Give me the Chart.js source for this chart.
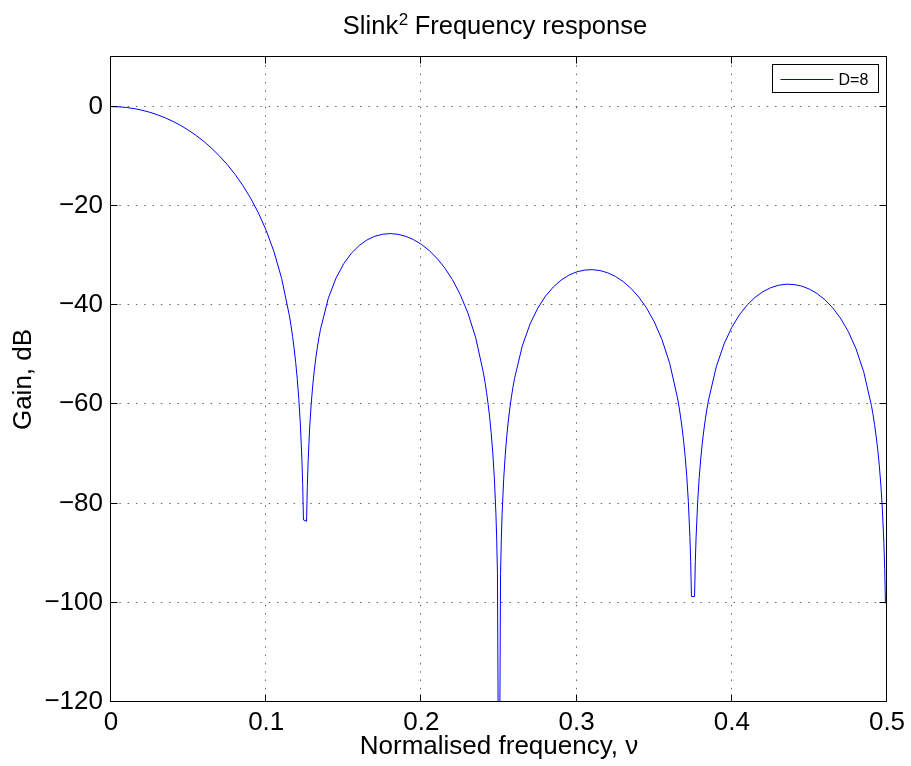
<!DOCTYPE html>
<html><head><meta charset="utf-8">
<script src="https://cdn.jsdelivr.net/npm/chart.js@4.4.0/dist/chart.umd.min.js"></script>
<style>html,body{margin:0;padding:0;background:#fff;} #wrap{width:911px;height:766px;}</style>
</head><body><div id="wrap"><canvas id="c" width="911" height="766"></canvas></div>
<script>
// ---- data ----
const nu = [0,0.005,0.01,0.015,0.02,0.025,0.03,0.035,0.04,0.045,0.05,0.055,0.06,0.065,0.07,0.075,0.08,0.085,0.09,0.095,0.1,0.105,0.11,0.115,0.116,0.117,0.118,0.119,0.12,0.121,0.122,0.123,0.1235,0.124,0.126,0.1265,0.127,0.128,0.129,0.13,0.131,0.132,0.133,0.134,0.135,0.14,0.145,0.15,0.155,0.16,0.165,0.17,0.175,0.18,0.185,0.19,0.195,0.2,0.205,0.21,0.215,0.22,0.225,0.23,0.235,0.24,0.241,0.242,0.243,0.244,0.245,0.246,0.247,0.248,0.2485,0.249,0.2499,0.2501,0.251,0.2515,0.252,0.253,0.254,0.255,0.256,0.257,0.258,0.259,0.26,0.265,0.27,0.275,0.28,0.285,0.29,0.295,0.3,0.305,0.31,0.315,0.32,0.325,0.33,0.335,0.34,0.345,0.35,0.355,0.36,0.365,0.366,0.367,0.368,0.369,0.37,0.371,0.372,0.373,0.3735,0.374,0.376,0.3765,0.377,0.378,0.379,0.38,0.381,0.382,0.383,0.384,0.385,0.39,0.395,0.4,0.405,0.41,0.415,0.42,0.425,0.43,0.435,0.44,0.445,0.45,0.455,0.46,0.465,0.47,0.475,0.48,0.485,0.49,0.491,0.492,0.493,0.494,0.495,0.496,0.497,0.498,0.4985,0.499];
const gainDb = [0,-0.045,-0.181,-0.407,-0.727,-1.14,-1.653,-2.266,-2.986,-3.817,-4.769,-5.848,-7.067,-8.439,-9.984,-11.72,-13.69,-15.92,-18.48,-21.44,-24.95,-29.23,-34.68,-42.23,-44.17,-46.33,-48.76,-51.56,-54.84,-58.84,-63.96,-71.13,-76.19,-83.3,-83.56,-76.58,-71.66,-64.75,-59.89,-56.16,-53.14,-50.61,-48.44,-46.54,-44.87,-38.65,-34.55,-31.64,-29.51,-27.97,-26.86,-26.13,-25.72,-25.59,-25.74,-26.15,-26.82,-27.76,-29.0,-30.56,-32.49,-34.88,-37.86,-41.63,-46.6,-53.71,-55.57,-57.64,-59.99,-62.7,-65.9,-69.82,-74.86,-81.95,-86.97,-94.04,-150,-150,-94.15,-87.14,-82.17,-75.19,-70.26,-66.45,-63.35,-60.75,-58.51,-56.55,-54.81,-48.24,-43.82,-40.6,-38.18,-36.35,-34.97,-33.98,-33.31,-32.95,-32.86,-33.04,-33.49,-34.23,-35.26,-36.62,-38.36,-40.56,-43.35,-46.94,-51.75,-58.69,-60.51,-62.54,-64.86,-67.54,-70.71,-74.59,-79.6,-86.66,-91.66,-98.72,-98.76,-91.73,-86.75,-79.74,-74.77,-70.94,-67.81,-65.18,-62.91,-60.91,-59.14,-52.43,-47.85,-44.48,-41.92,-39.95,-38.44,-37.31,-36.51,-36.01,-35.79,-35.85,-36.17,-36.78,-37.69,-38.93,-40.55,-42.63,-45.3,-48.78,-53.46,-60.29,-62.09,-64.1,-66.4,-69.05,-72.2,-76.06,-81.04,-88.08,-93.07,-100.12];
const xTicks = [0, 0.1, 0.2, 0.3, 0.4, 0.5];
const yTicks = [-120, -100, -80, -60, -40, -20, 0];
const xRange = [0, 0.5];
const yRange = [-120, 10];
const seriesLabel = 'D=8';
const titleMain = 'Slink', titleSup = '2', titleRest = ' Frequency response';
const xTitle = 'Normalised frequency, \u03bd';
const yTitle = 'Gain, dB';

const FONT = "'Liberation Sans', Arial, Helvetica, sans-serif";
const TICK_SIZE = 26;

const points = nu.map((v, i) => ({x: v, y: gainDb[i]}));

const frame = {
  id: 'frame',
  beforeDatasetsDraw(chart) {
    const {ctx, chartArea: a, scales: {x, y}} = chart;
    ctx.save();
    ctx.strokeStyle = 'rgba(0,0,0,0.6)';
    ctx.lineWidth = 1;
    ctx.setLineDash([1.5, 6.8]);
    xTicks.forEach(v => {
      if (v <= x.min || v >= x.max) return;
      const px = Math.round(x.getPixelForValue(v)) - 0.5;
      ctx.beginPath(); ctx.moveTo(px, a.top); ctx.lineTo(px, a.bottom); ctx.stroke();
    });
    yTicks.forEach(v => {
      if (v <= y.min || v >= y.max) return;
      const py = Math.round(y.getPixelForValue(v)) - 0.5;
      ctx.beginPath(); ctx.moveTo(a.left, py); ctx.lineTo(a.right, py); ctx.stroke();
    });
    ctx.restore();
  },
  afterDatasetsDraw(chart) {
    const {ctx, chartArea: a, scales: {x, y}} = chart;
    ctx.save();
    ctx.strokeStyle = '#000';
    ctx.lineWidth = 1;
    ctx.setLineDash([]);
    const L = Math.round(a.left) - 0.5, R = Math.round(a.right) - 0.5;
    const T = Math.round(a.top) - 0.5, B = Math.round(a.bottom) - 0.5;
    ctx.strokeRect(L, T, R - L, B - T);
    const tl = 7;
    ctx.beginPath();
    xTicks.forEach(v => {
      const px = Math.round(x.getPixelForValue(v)) - 0.5;
      ctx.moveTo(px, B); ctx.lineTo(px, B - tl);
      ctx.moveTo(px, T); ctx.lineTo(px, T + tl);
    });
    yTicks.forEach(v => {
      const py = Math.round(y.getPixelForValue(v)) - 0.5;
      ctx.moveTo(L, py); ctx.lineTo(L + tl, py);
      ctx.moveTo(R, py); ctx.lineTo(R - tl, py);
    });
    ctx.stroke();

    // legend box
    const bw = 106, bh = 28;
    const bx = Math.round(a.right) - 9 - bw + 0.5, by = Math.round(a.top) + 8 - 0.5;
    ctx.fillStyle = '#fff';
    ctx.fillRect(bx, by, bw, bh);
    ctx.strokeRect(bx, by, bw, bh);
    const ly = Math.round(by + bh / 2) + 0.5;
    ctx.strokeStyle = chart.data.datasets[0].borderColor;
    ctx.beginPath(); ctx.moveTo(bx + 8, ly); ctx.lineTo(bx + 61, ly); ctx.stroke();
    ctx.fillStyle = '#000';
    ctx.font = '16px ' + FONT;
    ctx.textBaseline = 'middle';
    ctx.textAlign = 'left';
    ctx.fillText(chart.data.datasets[0].label, bx + 66, ly + 1);

    // title with superscript
    const big = '25.5px ' + FONT, small = '17px ' + FONT;
    ctx.textBaseline = 'alphabetic';
    ctx.font = big; const w1 = ctx.measureText(titleMain).width, w3 = ctx.measureText(titleRest).width;
    ctx.font = small; const w2 = ctx.measureText(titleSup).width;
    const cx = (a.left + a.right) / 2 - 4;
    let sx = cx - (w1 + w2 + w3) / 2;
    const base = 34;
    ctx.font = big; ctx.fillText(titleMain, sx, base); sx += w1;
    ctx.font = small; ctx.fillText(titleSup, sx + 0.5, base - 9); sx += w2;
    ctx.font = big; ctx.fillText(titleRest, sx, base);
    ctx.restore();
  }
};

const fmtY = v => v < 0 ? '\u2212' + Math.abs(v) : String(v);

new Chart(document.getElementById('c'), {
  type: 'line',
  data: {
    datasets: [{
      label: seriesLabel,
      data: points,
      borderColor: '#0000ff',
      borderWidth: 1,
      pointRadius: 0,
      fill: false,
      tension: 0
    }]
  },
  options: {
    responsive: false,
    animation: false,
    devicePixelRatio: 1,
    layout: {padding: {left: 0, right: 24, top: 57, bottom: 0}},
    plugins: {legend: {display: false}, title: {display: false}, tooltip: {enabled: false}},
    scales: {
      x: {
        type: 'linear', position: 'bottom', min: xRange[0], max: xRange[1],
        grid: {display: false, drawTicks: false}, border: {display: false},
        afterBuildTicks: s => { s.ticks = xTicks.map(v => ({value: v})); },
        afterFit: s => { s.height = 64; },
        ticks: {color: '#000', font: {family: FONT, size: TICK_SIZE}, padding: 5, maxRotation: 0, autoSkip: false,
          callback: v => String(v)},
        title: {display: true, text: xTitle, color: '#000', font: {family: FONT, size: TICK_SIZE}, padding: {top: 0, bottom: 4}}
      },
      y: {
        type: 'linear', min: yRange[0], max: yRange[1],
        grid: {display: false, drawTicks: false}, border: {display: false},
        afterBuildTicks: s => { s.ticks = yTicks.map(v => ({value: v})); },
        afterFit: s => { s.width = 111; },
        ticks: {color: '#000', font: {family: FONT, size: TICK_SIZE}, padding: 8, autoSkip: false, callback: fmtY},
        title: {display: true, text: yTitle, color: '#000', font: {family: FONT, size: TICK_SIZE}, padding: {top: 8, bottom: 0}}
      }
    }
  },
  plugins: [frame]
});
</script>
</body></html>
